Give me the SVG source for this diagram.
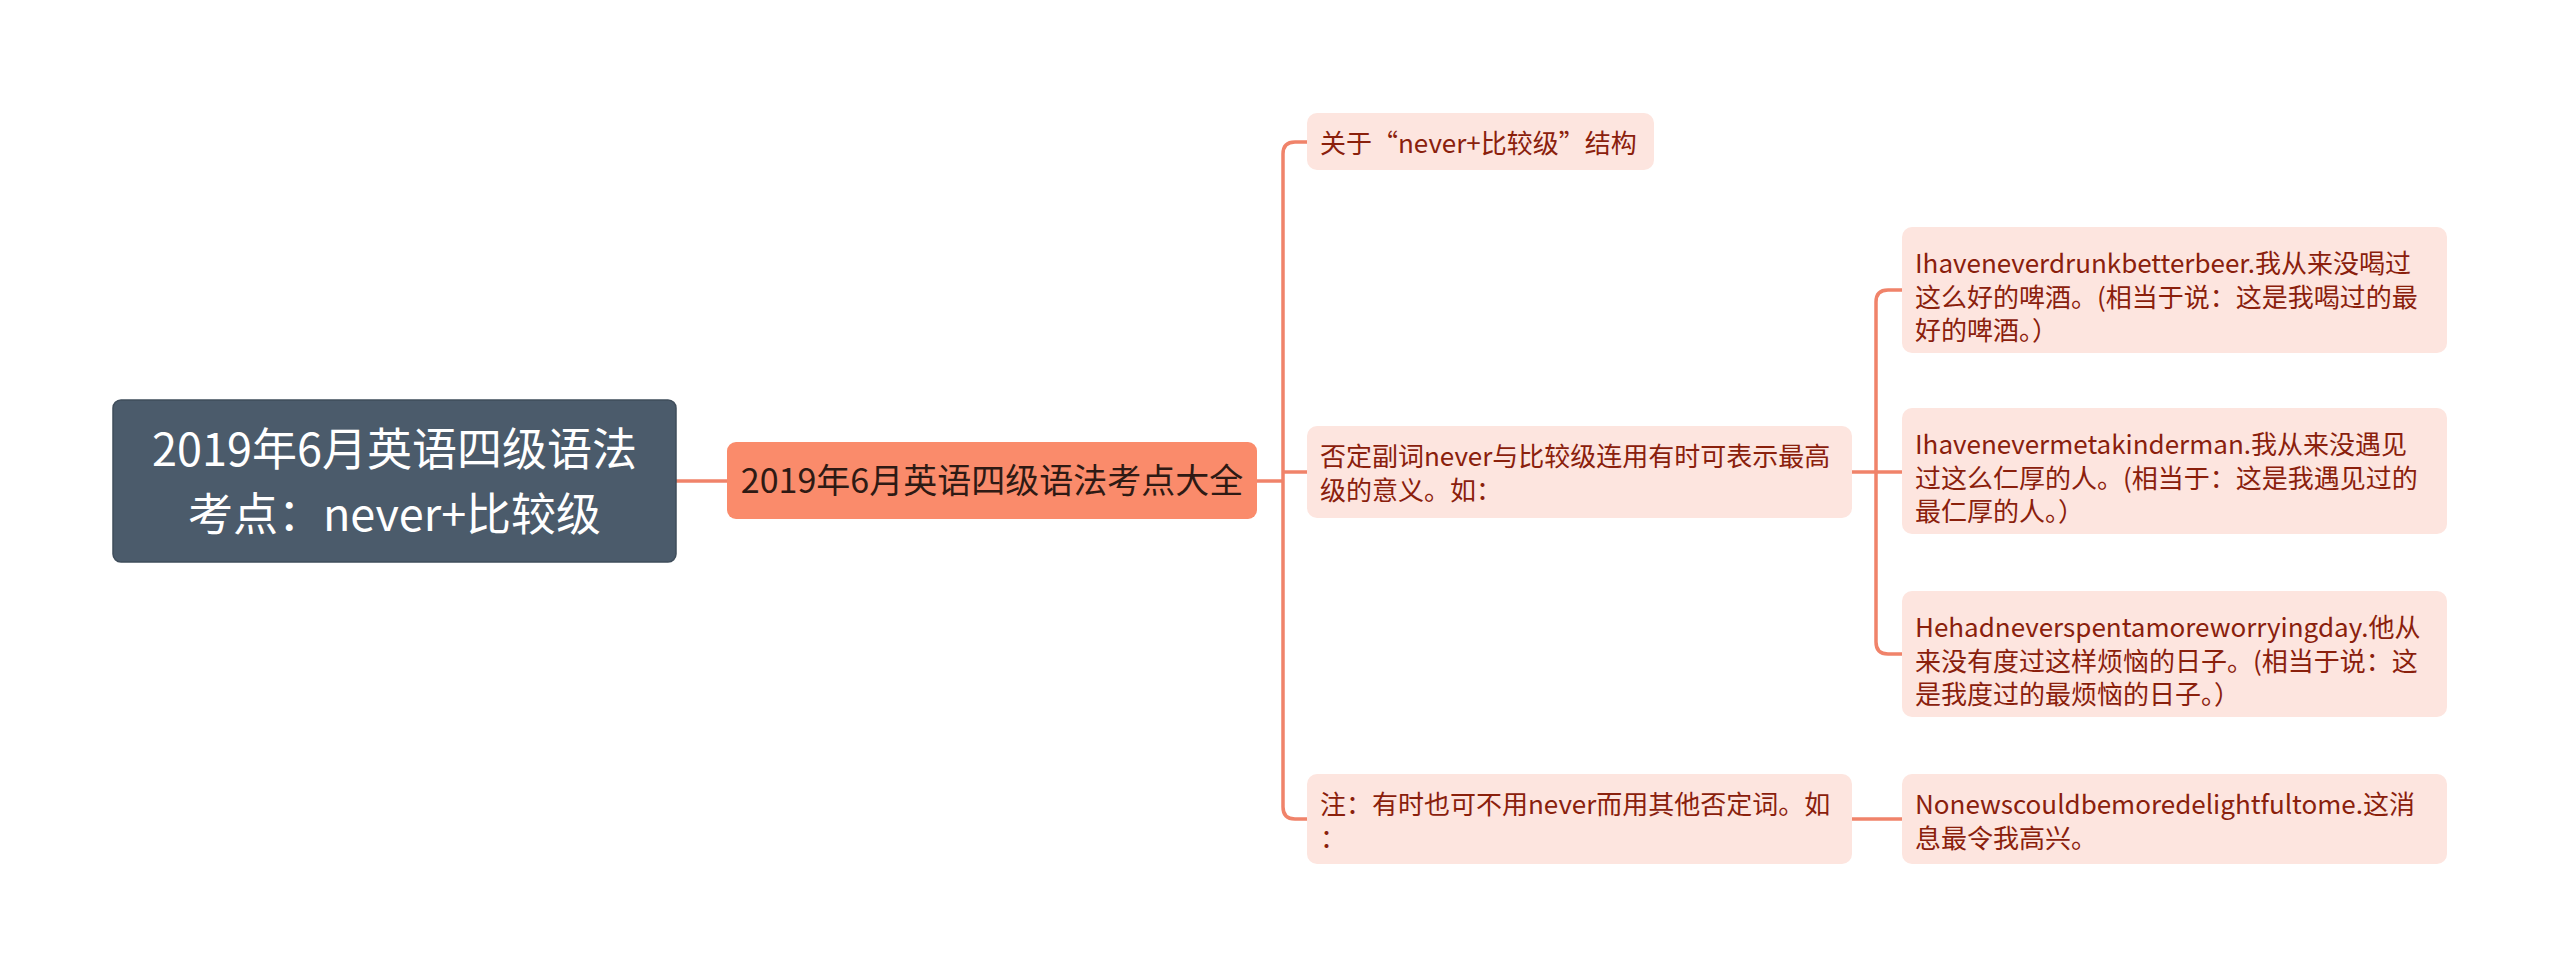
<svg xmlns="http://www.w3.org/2000/svg" width="2560" height="978" viewBox="0 0 2560 978">
<style>
  .conn { fill: none; stroke: #f0836a; stroke-width: 3.5; }
  .leaf rect { fill: #fde5df; }
  .leaf text { font-family: "Noto Sans CJK SC", "Noto Sans", sans-serif; font-size: 26px; fill: #8a200c; }
  .root rect { fill: #4b5b6b; stroke: #3f4d5b; stroke-width: 1.5; }
  .root text { font-family: "Noto Sans CJK SC", "Noto Sans", sans-serif; font-size: 45px; fill: #ffffff; text-anchor: middle; }
  .main rect { fill: #fa8b6b; }
  .main text { font-family: "Noto Sans CJK SC", "Noto Sans", sans-serif; font-size: 34px; fill: #2e1a14; text-anchor: middle; }
</style>
<rect x="0" y="0" width="2560" height="978" fill="#ffffff"/>
<g id="connectors">
  <path class="conn" d="M676 481 H727"/>
  <path class="conn" d="M1257 481 H1283"/>
  <path class="conn" d="M1307 142 H1295 Q1283 142 1283 154 V807 Q1283 819 1295 819 H1307"/>
  <path class="conn" d="M1283 472 H1307"/>
  <path class="conn" d="M1852 472 H1902"/>
  <path class="conn" d="M1902 290 H1888 Q1876 290 1876 302 V642 Q1876 654 1888 654 H1902"/>
  <path class="conn" d="M1852 819 H1902"/>
</g>
<g id="root" class="root">
  <rect x="113" y="400" width="563" height="162" rx="8"/>
  <text x="394.5" y="466">2019年6月英语四级语法</text>
  <text x="394.5" y="531">考点：never+比较级</text>
</g>
<g id="main" class="main">
  <rect x="727" y="442" width="530" height="77" rx="9"/>
  <text x="992" y="493">2019年6月英语四级语法考点大全</text>
</g>
<g id="n1" class="leaf">
  <rect x="1307" y="113" width="347" height="57" rx="10"/>
  <text x="1320" y="153">关于“never+比较级”结构</text>
</g>
<g id="n2" class="leaf">
  <rect x="1307" y="426" width="545" height="92" rx="10"/>
  <text x="1320" y="466">否定副词never与比较级连用有时可表示最高</text>
  <text x="1320" y="500">级的意义。如：</text>
</g>
<g id="n3" class="leaf">
  <rect x="1307" y="774" width="545" height="90" rx="10"/>
  <text x="1320" y="814">注：有时也可不用never而用其他否定词。如</text>
  <text x="1320" y="848">：</text>
</g>
<g id="c1" class="leaf">
  <rect x="1902" y="227" width="545" height="126" rx="10"/>
  <text x="1915" y="273">Ihaveneverdrunkbetterbeer.我从来没喝过</text>
  <text x="1915" y="306.5">这么好的啤酒。(相当于说：这是我喝过的最</text>
  <text x="1915" y="340">好的啤酒。）</text>
</g>
<g id="c2" class="leaf">
  <rect x="1902" y="408" width="545" height="126" rx="10"/>
  <text x="1915" y="454">Ihavenevermetakinderman.我从来没遇见</text>
  <text x="1915" y="487.5">过这么仁厚的人。(相当于：这是我遇见过的</text>
  <text x="1915" y="521">最仁厚的人。）</text>
</g>
<g id="c3" class="leaf">
  <rect x="1902" y="591" width="545" height="126" rx="10"/>
  <text x="1915" y="637">Hehadneverspentamoreworryingday.他从</text>
  <text x="1915" y="670.5">来没有度过这样烦恼的日子。(相当于说：这</text>
  <text x="1915" y="704">是我度过的最烦恼的日子。）</text>
</g>
<g id="c4" class="leaf">
  <rect x="1902" y="774" width="545" height="90" rx="10"/>
  <text x="1915" y="814">Nonewscouldbemoredelightfultome.这消</text>
  <text x="1915" y="848">息最令我高兴。</text>
</g>
</svg>
